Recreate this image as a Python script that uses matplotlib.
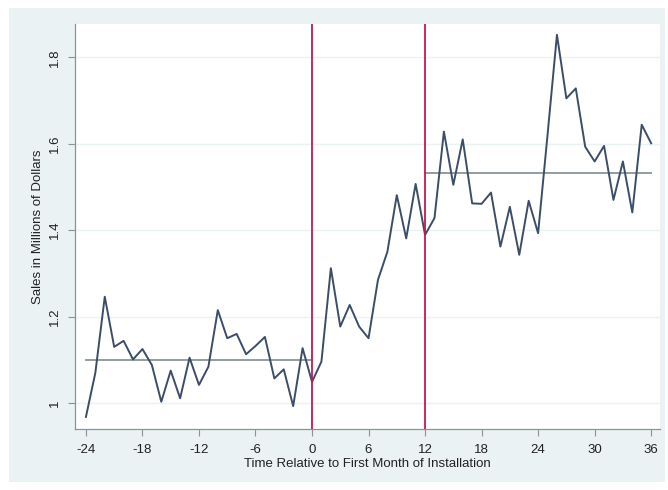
import matplotlib
matplotlib.use("Agg")
import matplotlib.pyplot as plt
from matplotlib.patches import Rectangle
import numpy as np

plt.rcParams['font.family'] = ['Liberation Sans', 'DejaVu Sans']

# Monthly sales, months -24 .. 36 relative to installation
months = list(range(-24, 37))
sales = [
    0.968, 1.070, 1.246, 1.130, 1.144, 1.101, 1.125, 1.088, 1.003, 1.075,
    1.011, 1.105, 1.042, 1.084, 1.215, 1.150, 1.160, 1.113, 1.132, 1.153,
    1.057, 1.078, 0.993, 1.127, 1.049,
    1.096, 1.312, 1.177, 1.227, 1.177, 1.150, 1.285, 1.350, 1.481, 1.381,
    1.507, 1.389,
    1.428, 1.628, 1.505, 1.610, 1.462, 1.461, 1.487, 1.362, 1.454, 1.343,
    1.468, 1.393, 1.620, 1.852, 1.705, 1.728, 1.593, 1.559, 1.595, 1.470,
    1.559, 1.441, 1.644, 1.601,
]

# Period averages: before installation and after the 12-month ramp-up
pre_span = [-24, 0]
pre_mean = 1.100
post_span = [12, 36]
post_mean = 1.533

# Installation markers
event_months = [0, 12]

x_ticks = list(range(-24, 37, 6))
y_ticks = [1.0, 1.2, 1.4, 1.6, 1.8]
y_tick_labels = ["1", "1.2", "1.4", "1.6", "1.8"]

outer_bg = "#eaf2f3"
line_col = "#3b4d68"
mean_col = "#889597"
event_col = "#c8174f"
axis_col = "#8c9396"

fig = plt.figure(figsize=(6.68, 4.90), dpi=100, facecolor="white")
fig.patches.append(Rectangle((9 / 668, 8 / 490), 656 / 668, 474 / 490,
                             transform=fig.transFigure, facecolor=outer_bg,
                             edgecolor="none", zorder=-10))

ax = fig.add_axes([75 / 668, 61 / 490, 585 / 668, 405 / 490])
ax.set_zorder(1)
ax.set_facecolor("white")

ax.set_xlim(-25.16, 36.94)
ax.set_ylim(0.940, 1.877)

for y in y_ticks:
    ax.axhline(y, color=outer_bg, lw=1.0, zorder=1)

ax.plot(months, sales, color=line_col, lw=1.4, zorder=3)
ax.plot(pre_span, [pre_mean, pre_mean], color=mean_col, lw=1.3, zorder=2)
ax.plot(post_span, [post_mean, post_mean], color=mean_col, lw=1.3, zorder=2)
for m in event_months:
    ax.axvline(m, color=event_col, lw=1.3, zorder=4)

ax.set_xticks(x_ticks)
ax.set_xticklabels([str(t) for t in x_ticks])
ax.set_yticks(y_ticks)
ax.set_yticklabels(y_tick_labels, rotation=90, va="center")

ax.tick_params(axis="both", direction="out", length=5, width=0.8,
               color=axis_col, labelsize=9.5, labelcolor="#222222")
ax.tick_params(axis="x", pad=6)
ax.tick_params(axis="y", pad=5)

for side in ["top", "right"]:
    ax.spines[side].set_visible(False)
for side in ["left", "bottom"]:
    ax.spines[side].set_color(axis_col)
    ax.spines[side].set_linewidth(0.9)

ax.set_xlabel("Time Relative to First Month of Installation", fontsize=9.5,
              color="#222222", labelpad=1)
ax.set_ylabel("Sales in Millions of Dollars", fontsize=9.5,
              color="#222222", labelpad=4)

fig.savefig("out.png", dpi=100, facecolor="white")
